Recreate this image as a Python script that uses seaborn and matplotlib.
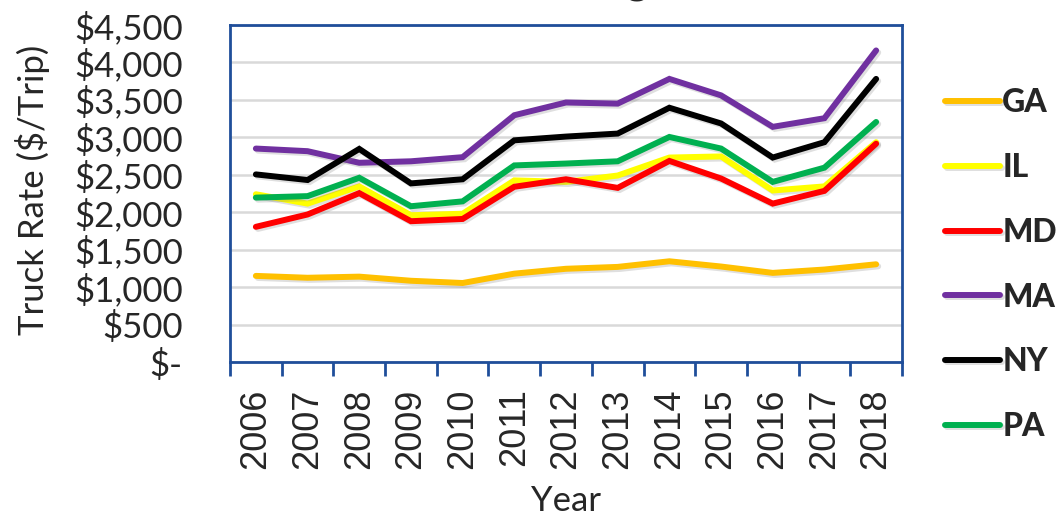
import numpy as np
import pandas as pd
import matplotlib.pyplot as plt
import matplotlib.patheffects as pe
from matplotlib.ticker import FuncFormatter
import seaborn as sns

# Truck rate data ($/trip) by state

years = ['2006', '2007', '2008', '2009', '2010', '2011', '2012',
         '2013', '2014', '2015', '2016', '2017', '2018']
ga = [1150, 1125, 1140, 1085, 1055, 1180, 1245, 1270, 1345, 1275, 1190, 1235, 1305]
il = [2240, 2115, 2345, 1960, 1980, 2425, 2405, 2490, 2730, 2745, 2290, 2345, 2935]
md = [1805, 1970, 2255, 1880, 1910, 2340, 2440, 2325, 2685, 2450, 2115, 2285, 2915]
ma = [2850, 2815, 2660, 2680, 2735, 3295, 3465, 3450, 3780, 3560, 3140, 3255, 4160]
ny = [2505, 2430, 2845, 2385, 2440, 2960, 3010, 3050, 3395, 3185, 2730, 2935, 3780]
pa = [2195, 2215, 2460, 2080, 2145, 2625, 2650, 2680, 3005, 2850, 2405, 2595, 3205]

states = ['GA', 'IL', 'MD', 'MA', 'NY', 'PA']
colors = ['#FFC000', '#FFFF00', '#FF0000', '#7030A0', '#000000', '#00B050']

df = pd.DataFrame({'Year': years, 'GA': ga, 'IL': il, 'MD': md,
                   'MA': ma, 'NY': ny, 'PA': pa})
df = df.melt(id_vars='Year', var_name='State', value_name='Rate')

sns.set_theme(style='white')
plt.rcParams['font.family'] = ['Lato', 'DejaVu Sans']
frame = '#1F4E9A'

fig = plt.figure(figsize=(10.61, 5.16), dpi=100)
ax = fig.add_axes([0.2168, 0.2984, 0.6333, 0.6532])

sns.lineplot(data=df, x='Year', y='Rate', hue='State', hue_order=states,
             palette=colors, linewidth=4.3, sort=False, ax=ax)

for line in ax.lines:
    line.set_solid_capstyle('round')
    line.set_solid_joinstyle('miter')
    line.set_path_effects([pe.SimpleLineShadow(offset=(1.5, -1.5), alpha=0.25,
                                               shadow_color='gray'),
                           pe.Normal()])

# axes look
ax.set_ylim(0, 4500)
ax.set_yticks(np.arange(0, 4501, 500))
ax.yaxis.set_major_formatter(FuncFormatter(lambda v, p: '$-' if v == 0 else f'${v:,.0f}'))
ax.set_xlim(-0.5, 12.5)
ax.set_xticks(range(len(years)))
ax.set_xticklabels(years, rotation=90, family='Liberation Sans', fontsize=26)
ax.set_xticks(np.arange(-0.5, len(years)), minor=True)
ax.tick_params(axis='x', which='major', length=0, pad=19)
ax.tick_params(axis='x', which='minor', length=10, width=2, color=frame, direction='out', bottom=True)
ax.tick_params(axis='y', length=0, labelsize=25, pad=34)

ax.yaxis.grid(True, color='#D9D9D9', linewidth=1.8)
ax.set_axisbelow(True)
for s in ax.spines.values():
    s.set_color(frame)
    s.set_linewidth(2)

ax.set_ylabel('Truck Rate ($/Trip)', fontsize=25)
ax.yaxis.set_label_coords(-0.268, 0.51)
ax.set_xlabel('Year', fontsize=25)
ax.xaxis.set_label_coords(0.5, -0.365)

handles, labels = ax.get_legend_handles_labels()
ax.get_legend().remove()
fig.legend(handles, labels, loc='upper left', bbox_to_anchor=(0.876, 0.86),
           frameon=False, borderpad=0, handlelength=1.7, handletextpad=0.08,
           labelspacing=1.12, prop={'weight': 'black', 'size': 23})

# chart title, mostly cut off at the top edge in the source
fig.text(0.535, 1.012, 'Trucking', ha='center', va='baseline', fontsize=30, weight='bold')

fig.savefig('out.png', dpi=100)
